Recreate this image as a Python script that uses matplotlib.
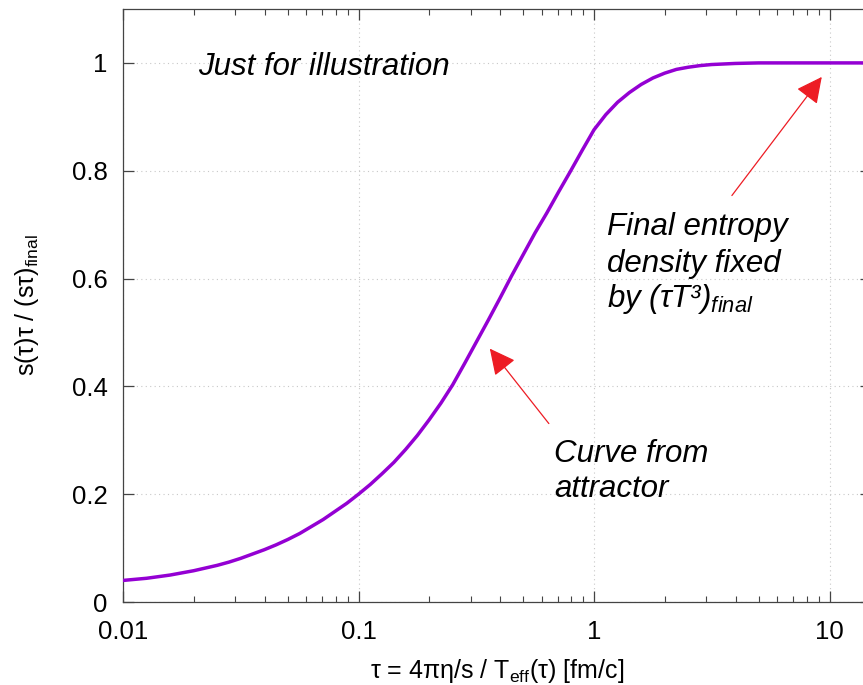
import matplotlib
matplotlib.use("Agg")
import matplotlib.pyplot as plt
from matplotlib.ticker import LogLocator, FixedLocator, NullFormatter

plt.rcParams['font.family'] = ['Liberation Sans', 'DejaVu Sans']
plt.rcParams['mathtext.fontset'] = 'custom'
plt.rcParams['mathtext.rm'] = 'Liberation Sans'
plt.rcParams['mathtext.it'] = 'Liberation Sans:italic'
plt.rcParams['mathtext.bf'] = 'Liberation Sans:bold'

# data
tau = [0.01, 0.01122, 0.01259, 0.01413, 0.01585, 0.01778, 0.01995, 0.02239,
       0.02512, 0.02818, 0.03162, 0.03548, 0.03981, 0.04467, 0.05012, 0.05623,
       0.0631, 0.07079, 0.07943, 0.08913, 0.1, 0.1122, 0.1259, 0.1413,
       0.1585, 0.1778, 0.1995, 0.2239, 0.2512, 0.2818, 0.3162, 0.3548,
       0.3981, 0.4467, 0.5012, 0.5623, 0.631, 0.7079, 0.7943, 0.8913,
       1.0, 1.122, 1.259, 1.413, 1.585, 1.778, 1.995, 2.239,
       2.512, 2.818, 3.162, 3.981, 5.012, 7.079, 10.0, 15.0]
ratio = [0.040, 0.042, 0.044, 0.047, 0.050, 0.054, 0.058, 0.063,
         0.068, 0.074, 0.081, 0.089, 0.097, 0.106, 0.116, 0.127,
         0.140, 0.153, 0.168, 0.183, 0.200, 0.218, 0.238, 0.259,
         0.283, 0.309, 0.338, 0.369, 0.403, 0.442, 0.482, 0.522,
         0.563, 0.605, 0.645, 0.685, 0.722, 0.761, 0.799, 0.838,
         0.876, 0.904, 0.927, 0.945, 0.960, 0.972, 0.981, 0.988,
         0.992, 0.995, 0.997, 0.999, 1.000, 1.000, 1.000, 1.000]

xticks = [0.01, 0.1, 1, 10]
xticklabels = ['0.01', '0.1', '1', '10']
yticks = [0, 0.2, 0.4, 0.6, 0.8, 1]
yticklabels = ['0', '0.2', '0.4', '0.6', '0.8', '1']

W, H = 863, 685
fig = plt.figure(figsize=(W / 100, H / 100), dpi=100)
ax = fig.add_axes([123 / W, 83 / H, 748 / W, 593 / H])

ax.plot(tau, ratio, color='#9400D3', lw=2.5, solid_joinstyle='round', zorder=3)

ax.set_xscale('log')
ax.set_xlim(0.01, 15)
ax.set_ylim(0, 1.1)

ax.xaxis.set_major_locator(FixedLocator(xticks))
ax.set_xticklabels(xticklabels)
ax.xaxis.set_minor_locator(LogLocator(base=10, subs=range(2, 10)))
ax.xaxis.set_minor_formatter(NullFormatter())
ax.set_yticks(yticks)
ax.set_yticklabels(yticklabels)

spine_c = '#444444'
for s in ax.spines.values():
    s.set_color(spine_c)
    s.set_linewidth(0.9)

ax.tick_params(axis='both', which='major', direction='in', length=8, width=0.9,
               color=spine_c, labelsize=18.5, top=True, right=True)
ax.tick_params(axis='x', which='major', pad=13)
ax.tick_params(axis='y', which='major', pad=11)
ax.tick_params(axis='x', which='minor', direction='in', length=4.5, width=0.8,
               color=spine_c, top=True)

ax.grid(True, which='major', color='#c8c8c8', linestyle=(0, (1, 3)), linewidth=0.8)

ax.set_xlabel(r'τ = 4πη/s / T$_{\mathrm{eff}}$(τ) [fm/c]', fontsize=18, labelpad=9)
ax.set_ylabel(r's(τ)τ / (sτ)$_{\mathrm{final}}$', fontsize=18, labelpad=22)

tsize = 22.5
ax.text(0.0208, 0.978, 'Just for illustration', fontsize=tsize, style='italic',
        va='baseline', ha='left')
ax.text(1.13, 0.680, 'Final entropy', fontsize=tsize, style='italic', va='baseline')
ax.text(1.13, 0.613, 'density fixed', fontsize=tsize, style='italic', va='baseline')
ax.text(1.13, 0.547, r'by (τT³)$_{final}$', fontsize=tsize, style='italic', va='baseline')
ax.text(0.675, 0.259, 'Curve from', fontsize=tsize, style='italic', va='baseline')
ax.text(0.675, 0.195, 'attractor', fontsize=tsize, style='italic', va='baseline')

red = '#ED1C24'
aprops = dict(arrowstyle='-|>,head_length=1.6,head_width=0.8', color=red, lw=0.9,
              shrinkA=0, shrinkB=0)
ax.annotate('', xy=(0.361, 0.470), xytext=(0.643, 0.331), arrowprops=aprops)
ax.annotate('', xy=(9.27, 0.974), xytext=(3.85, 0.754), arrowprops=aprops)

fig.savefig('out.png', dpi=100)
